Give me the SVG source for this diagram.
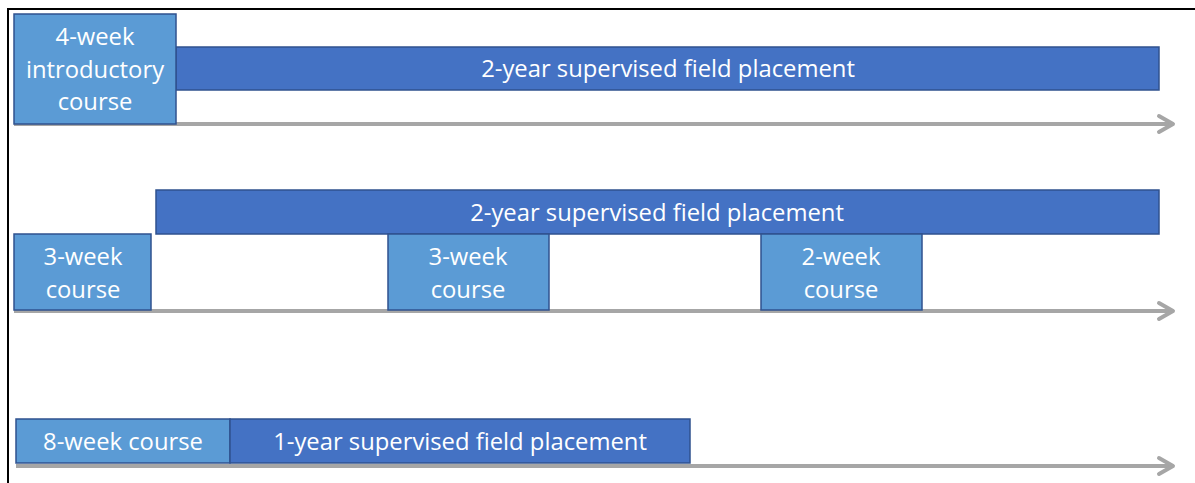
<svg xmlns="http://www.w3.org/2000/svg" width="1195" height="483" viewBox="0 0 1195 483">
<style>
.course{fill:#5B9BD5;stroke:#2F528F;stroke-width:1.5}
.place{fill:#4472C4;stroke:#2F528F;stroke-width:1.5}
.t{font-family:"Open Sans","Liberation Sans",Arial,sans-serif;font-size:23.8px;fill:#FFFFFF;text-anchor:middle}
.axis{stroke:#A6A6A6;stroke-width:4;fill:none}
.head{stroke:#A6A6A6;stroke-width:4;fill:none;stroke-linecap:round;stroke-linejoin:round}
</style>
<rect x="0" y="0" width="1195" height="483" fill="#FFFFFF"/>
<rect x="8" y="9" width="1200" height="500" fill="none" stroke="#000000" stroke-width="2"/>
<g id="connectors">
<line class="axis" x1="14" y1="124" x2="1172" y2="124"/>
<polyline class="head" points="1159,116 1173,124 1159,132"/>
<line class="axis" x1="14" y1="311" x2="1172" y2="311"/>
<polyline class="head" points="1159,303 1173,311 1159,319"/>
<line class="axis" x1="16" y1="466" x2="1172" y2="466"/>
<polyline class="head" points="1159,458 1173,466 1159,474"/>
</g>
<g id="row1-placement">
<rect class="place" x="176" y="47" width="983" height="43"/>
<text class="t" x="668" y="77">2-year supervised field placement</text>
</g>
<g id="row1-course">
<rect class="course" x="14" y="14" width="162" height="110"/>
<text class="t" x="95" y="45">4-week</text>
<text class="t" x="95" y="78">introductory</text>
<text class="t" x="95" y="110">course</text>
</g>
<g id="row2-placement">
<rect class="place" x="156" y="190" width="1003" height="44"/>
<text class="t" x="657" y="221">2-year supervised field placement</text>
</g>
<g id="row2-course1">
<rect class="course" x="14" y="234" width="137" height="76"/>
<text class="t" x="83" y="265">3-week</text>
<text class="t" x="83" y="298">course</text>
</g>
<g id="row2-course2">
<rect class="course" x="388" y="234" width="161" height="76"/>
<text class="t" x="468" y="265">3-week</text>
<text class="t" x="468" y="298">course</text>
</g>
<g id="row2-course3">
<rect class="course" x="761" y="234" width="161" height="76"/>
<text class="t" x="841" y="265">2-week</text>
<text class="t" x="841" y="298">course</text>
</g>
<g id="row3-course">
<rect class="course" x="16" y="419" width="214" height="44"/>
<text class="t" x="123" y="450">8-week course</text>
</g>
<g id="row3-placement">
<rect class="place" x="230" y="419" width="460" height="44"/>
<text class="t" x="460" y="450">1-year supervised field placement</text>
</g>
</svg>
